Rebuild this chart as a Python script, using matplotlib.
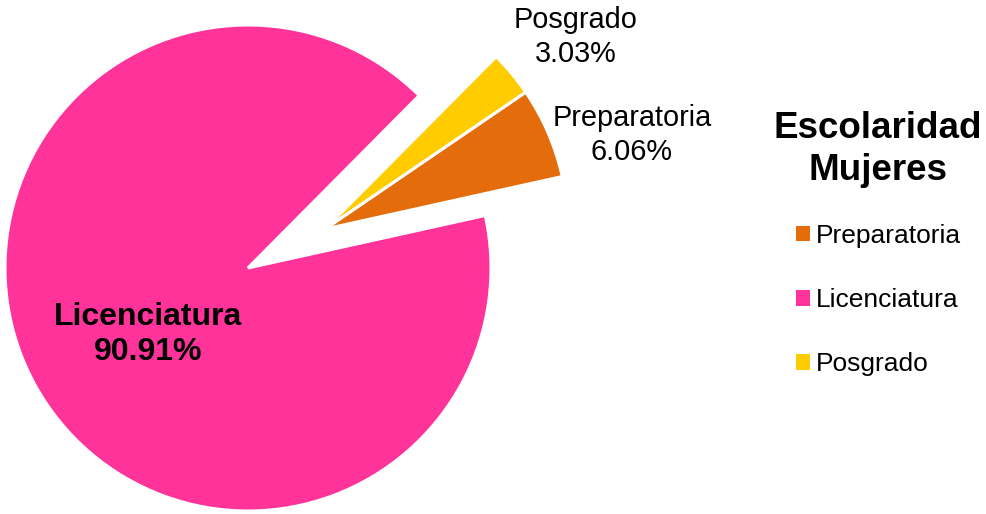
import numpy as np
import matplotlib.pyplot as plt
from matplotlib.patches import Patch

categorias = ['Preparatoria', 'Licenciatura', 'Posgrado']
porcentajes = [6.06, 90.91, 3.03]
colores = ['#E46C0A', '#FF3399', '#FFCC00']
titulo = ['Escolaridad', 'Mujeres']

plt.rcParams['font.family'] = ['Liberation Sans', 'DejaVu Sans']

W, H = 986, 514
fig = plt.figure(figsize=(W / 100, H / 100), dpi=100)
ax = fig.add_axes([0, 0, 1, 1])

# pie in pixel units
cx, cy, r = 248, H - 268, 243
inicio = 34.3
wedges, _ = ax.pie(porcentajes, colors=colores, startangle=inicio,
                   counterclock=False, center=(cx, cy), radius=r,
                   wedgeprops=dict(edgecolor='white', linewidth=2.2))

# Preparatoria + Posgrado pulled out together
medio = np.deg2rad(inicio + 1.8 * (porcentajes[2] - porcentajes[0]) - 2)
sep = 0.355 * r
dx, dy = sep * np.cos(medio), sep * np.sin(medio)
for i in (0, 2):
    wedges[i].set_center((cx + dx, cy + dy))

ax.set_xlim(0, W)
ax.set_ylim(0, H)
ax.set_aspect('auto')
ax.axis('off')

# data labels (x center, baseline of first line, from top)
pos_etiquetas = [(632, 126), (148, 325), (576, 28)]
for cat, p, (x, y) in zip(categorias, porcentajes, pos_etiquetas):
    bold = cat == 'Licenciatura'
    fs = 23 if bold else 20.8
    paso = 35 if bold else 34
    kw = dict(ha='center', va='baseline', fontsize=fs,
              fontweight='bold' if bold else 'normal')
    ax.text(x, H - y, cat, **kw)
    ax.text(x, H - y - paso, f'{p:.2f}%', **kw)

# title
for linea, y in zip(titulo, (138, 180)):
    ax.text(878, H - y, linea, ha='center', va='baseline',
            fontsize=26.5, fontweight='bold')

handles = [Patch(facecolor=c, edgecolor='none') for c in colores]
ax.legend(handles, categorias, loc='upper left',
          bbox_to_anchor=(796, H - 224), bbox_transform=ax.transData,
          frameon=False, fontsize=19, borderpad=0, borderaxespad=0,
          labelspacing=1.52, handlelength=0.53, handleheight=0.53,
          handletextpad=0.22)

plt.savefig('out.png', dpi=100)
